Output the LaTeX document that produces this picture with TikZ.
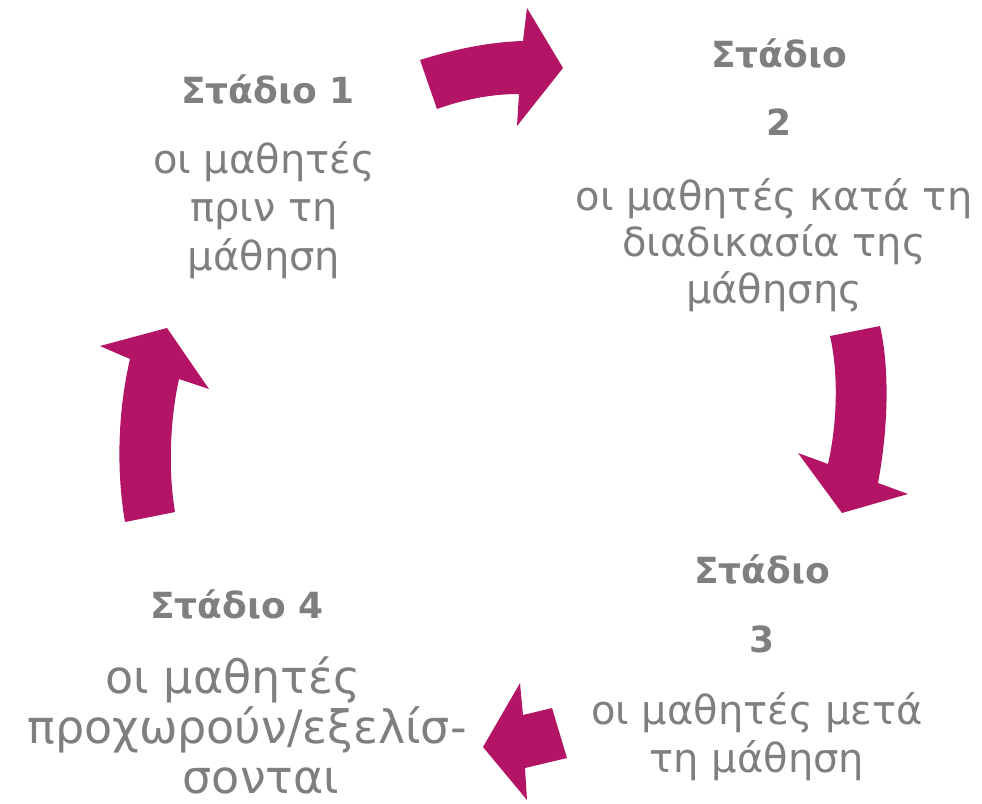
\documentclass[tikz,border=0pt]{standalone}
\usepackage{fontspec}
\setmainfont{DejaVu Sans}
\definecolor{arrowmag}{HTML}{B31466}
\definecolor{txtgray}{HTML}{7F7F7F}
\tikzset{
  blockarrow/.style={fill=arrowmag, draw=none},
  stagetitle/.style={anchor=base, align=center, text=txtgray, inner sep=0pt,
    font=\bfseries\fontsize{36}{68}\selectfont},
  stagebody/.style={anchor=base, align=center, text=txtgray, inner sep=0pt,
    font=\fontsize{40}{48.5}\selectfont}
}
\begin{document}
\begin{tikzpicture}[x=1pt,y=-1pt]
\useasboundingbox (0,0) rectangle (982,803);

% (base anchor of a multi-line node = baseline of its last line)
% Stage 1
\node[stagetitle] (t1) at (268,103) {Στάδιο 1};
\node[stagebody] (b1) at (264,270) {οι μαθητές\\πριν τη\\μάθηση};

% Stage 2
\node[stagetitle] (t2) at (779,135) {Στάδιο\\2};
\node[stagebody, font=\fontsize{40}{46.5}\selectfont] (b2) at (774,303) {οι μαθητές κατά τη\\διαδικασία της\\μάθησης};

% Stage 3
\node[stagetitle, font=\bfseries\fontsize{36}{69}\selectfont] (t3) at (762,652) {Στάδιο\\3};
\node[stagebody, font=\fontsize{40}{48}\selectfont] (b3) at (757,772) {οι μαθητές μετά\\τη μάθηση};

% Stage 4
\node[stagetitle] (t4) at (237,618) {Στάδιο 4};
\node[stagebody, font=\fontsize{46}{50}\selectfont] (b4) at (247,793)
  {οι μαθητές\hspace*{28pt}\\προχωρούν/εξελίσ-\\\hspace*{28pt}σονται};

% Arrow 1 (top, pointing right)
\fill[blockarrow] (420,60) .. controls (455,49) and (490,42) .. (523,41)
  -- (527,8) -- (563,68) -- (517,126) -- (519,94)
  .. controls (490,94) and (462,100) .. (437,109) -- cycle;

% Arrow 2 (right, pointing down)
\fill[blockarrow] (830,336) -- (880,326)
  .. controls (890,370) and (888,430) .. (878,483)
  -- (908,494) -- (842,513) -- (798,453) -- (828,464)
  .. controls (838,420) and (838,370) .. (830,336) -- cycle;

% Arrow 3 (bottom, pointing left)
\fill[blockarrow] (520,683) -- (523,715) -- (552,708) -- (567,758)
  -- (525,768) -- (527,800) -- (483,747) -- cycle;

% Arrow 4 (left, pointing up)
\fill[blockarrow] (125,522) -- (175,512)
  .. controls (168,470) and (170,420) .. (179,379)
  -- (209,389) -- (167,328) -- (100,346) -- (130,359)
  .. controls (118,410) and (116,470) .. (125,522) -- cycle;
\end{tikzpicture}
\end{document}
